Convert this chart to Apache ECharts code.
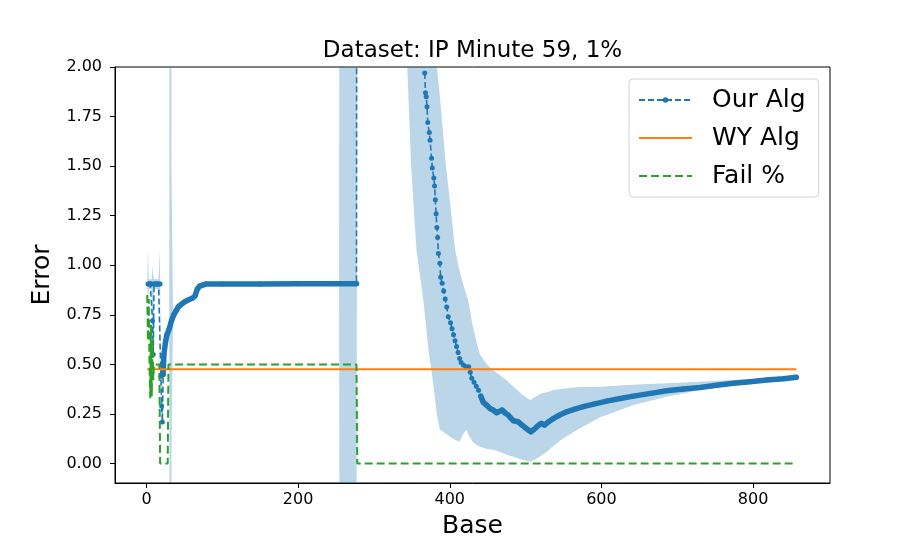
<!DOCTYPE html>
<html>
<head>
<meta charset="utf-8">
<script src="https://cdn.jsdelivr.net/npm/echarts@6/dist/echarts.min.js"></script>
<style>
  html, body { margin: 0; padding: 0; background: #fff; }
  #chart { width: 922px; height: 553px; }
</style>
</head>
<body>
<div id="chart"></div>
<script>
// Our Alg: mean error per base (null = off the chart, line broken)
var ourBase = [2,3,4,5,6,7,8,9,10,11,12,13,14,15,16,17,18,19,20,21,22,23,25,27,30,33,36,39,42,45,50,55,61,64,67,70,74,78,100,150,200,250,277,278,279,
  367,368,369,370,371,373,374,376,377,379,380,381,382,383,384,385,387,388,390,392,394,396,398,401,403,405,407,409,411,413,415,418,421,425,427,429,432,435,438,441,444,447,450,453,457,462,465,469,473,477,480,484,490,495,500,504,507,511,515,518,521,525,530,537,545,554,565,576,590,607,625,642,665,686,708,730,752,774,796,818,840,857];
var ourErr = [0.905,0.905,0.905,0.905,0.905,0.905,0.72,0.55,0.905,0.905,0.905,0.905,0.905,0.905,0.905,0.905,0.905,0.44,0.29,0.21,0.45,0.55,0.61,0.65,0.68,0.72,0.75,0.77,0.79,0.80,0.815,0.825,0.835,0.845,0.88,0.895,0.90,0.905,0.906,0.906,0.907,0.907,0.907,6.5,null,
  1.97,1.87,1.85,1.80,1.72,1.67,1.63,1.54,1.49,1.44,1.40,1.33,1.26,1.19,1.14,1.06,1.01,0.94,0.91,0.87,0.83,0.79,0.74,0.71,0.68,0.65,0.62,0.59,0.56,0.53,0.51,0.497,0.49,0.488,0.46,0.43,0.41,0.39,0.37,0.34,0.31,0.30,0.29,0.278,0.27,0.256,0.262,0.27,0.255,0.245,0.232,0.216,0.211,0.195,0.18,0.168,0.16,0.172,0.186,0.196,0.203,0.194,0.21,0.228,0.245,0.261,0.275,0.287,0.30,0.315,0.328,0.34,0.354,0.367,0.376,0.384,0.395,0.405,0.413,0.421,0.428,0.435];

// shaded spread around Our Alg
var bandBase = [1,2,3,7,8,9,10,16,17,18,19,20,21,22,25,29,30,31,32,33,35,40,60,78,254,255,277,278,340,
  341,349,356,365,372,378,383,387,395,400,407,413,418,422,424,430,437,440,448,457,466,475,484,495,506,512,520,528,537,546,564,572,599,607,642,686,730,774,818,857];
var bandLow = [0.9,0.8,0.88,0.88,0.6,0.5,0.88,0.88,0.85,0.85,0.35,0.2,0.15,0.4,0.58,0.66,0.67,-1,-1,0.03,0.72,0.77,0.83,0.90,0.90,-1,-1,3,3,
  2.3,1.5,1.08,0.83,0.57,0.41,0.25,0.17,0.15,0.135,0.12,0.11,0.15,0.17,0.15,0.11,0.09,0.085,0.075,0.07,0.06,0.045,0.034,0.02,0.009,0.02,0.038,0.06,0.09,0.118,0.16,0.178,0.235,0.245,0.295,0.337,0.371,0.396,0.418,0.432];
var bandHigh = [0.9,1.08,0.93,0.93,1.0,0.95,0.93,0.93,1.08,0.95,0.55,0.4,0.3,0.5,0.64,0.70,0.71,5,5,1.48,0.78,0.79,0.84,0.91,0.91,5,5,8,8,
  4,4,4,4,3,2.4,2.0,1.85,1.5,1.33,1.08,0.97,0.90,0.85,0.825,0.70,0.585,0.55,0.506,0.47,0.447,0.42,0.388,0.35,0.32,0.335,0.354,0.36,0.371,0.376,0.384,0.386,0.388,0.39,0.398,0.405,0.413,0.421,0.428,0.438];

var wyBase = [1, 857];
var wyErr = [0.476, 0.476];

var failBase = [1,2,3,4,5,6,7,8,9,10,17,18,28,29,277,278,857];
var failPct = [0.85,0.62,0.83,0.5,0.33,0.7,0.34,0.62,0.42,0.5,0.5,0.0,0.0,0.5,0.5,0.0,0.0];

var xTicks = [0, 200, 400, 600, 800];
var yTicks = [0, 0.25, 0.5, 0.75, 1.0, 1.25, 1.5, 1.75, 2.0];

function pairs(xs, ys) {
  return xs.map(function (x, i) { return [x, ys[i] == null ? '-' : ys[i]]; });
}
// dense stretches where the markers merge into a thick line
function dense(xs, ys) {
  return xs.map(function (x, i) {
    var inside = (x >= 22 && x <= 277) || (x >= 440);
    return [x, inside && ys[i] != null ? ys[i] : '-'];
  });
}

// one polygon: upper edge forward, lower edge back
function renderBand(params, api) {
  if (params.dataIndex !== 0) return null;
  var pts = [];
  for (var i = 0; i < bandBase.length; i++) pts.push(api.coord([bandBase[i], bandHigh[i]]));
  for (var j = bandBase.length - 1; j >= 0; j--) pts.push(api.coord([bandBase[j], bandLow[j]]));
  var cs = params.coordSys;
  return {
    type: 'polygon',
    shape: { points: pts },
    style: { fill: 'rgba(31,119,180,0.3)', stroke: null },
    clipPath: { type: 'rect', shape: { x: cs.x, y: cs.y, width: cs.width, height: cs.height } },
    silent: true
  };
}

var FONT = 'DejaVu Sans';
var chart = echarts.init(document.getElementById('chart'));

var option = {
  animation: false,
  backgroundColor: '#fff',
  title: {
    text: 'Dataset: IP Minute 59, 1%',
    left: 472.5,
    textAlign: 'center',
    top: 40,
    padding: 0,
    textStyle: { fontFamily: FONT, fontSize: 23, fontWeight: 'normal', color: '#000' }
  },
  grid: {
    left: 115, right: 92, top: 67, bottom: 70,
    show: true, borderColor: '#000', borderWidth: 1, backgroundColor: 'transparent'
  },
  legend: {
    data: [
      'Our Alg',
      { name: 'WY Alg', itemStyle: { opacity: 0 } },
      { name: 'Fail %', itemStyle: { opacity: 0 } }
    ],
    orient: 'vertical',
    left: 629, top: 79,
    padding: [6, 13, 6, 9],
    itemGap: 8,
    itemWidth: 53,
    itemHeight: 7,
    backgroundColor: '#fff',
    borderColor: '#d4d4d4',
    borderWidth: 1,
    borderRadius: 4,
    textStyle: { fontFamily: FONT, fontSize: 25, color: '#000', padding: [0, 0, 0, 15], lineHeight: 30 }
  },
  xAxis: {
    type: 'value',
    min: -41.5, max: 901.5,
    name: 'Base',
    nameLocation: 'middle',
    nameGap: 31,
    nameTextStyle: { fontFamily: FONT, fontSize: 25, color: '#000' },
    splitLine: { show: false },
    axisLine: { onZero: false, lineStyle: { color: '#000', width: 1 } },
    axisTick: { customValues: xTicks, length: 5, lineStyle: { color: '#000' } },
    axisLabel: { customValues: xTicks, fontFamily: FONT, fontSize: 16, color: '#000', margin: 9 }
  },
  yAxis: {
    type: 'value',
    min: -0.098, max: 2.0,
    name: 'Error',
    nameLocation: 'middle',
    nameGap: 50,
    nameTextStyle: { fontFamily: FONT, fontSize: 25, color: '#000' },
    splitLine: { show: false },
    axisLine: { show: true, onZero: false, lineStyle: { color: '#000', width: 1 } },
    axisTick: { show: true, customValues: yTicks, length: 5, lineStyle: { color: '#000' } },
    axisLabel: {
      customValues: yTicks, fontFamily: FONT, fontSize: 16, color: '#000', margin: 13,
      formatter: function (v) { return v.toFixed(2); }
    }
  },
  series: [
    {
      name: 'band', type: 'custom',
      data: bandBase.map(function (x, i) { return [x, bandLow[i], bandHigh[i]]; }),
      encode: { x: 0, y: [1, 2] },
      renderItem: renderBand,
      silent: true, z: 1
    },
    {
      name: 'Our Alg dense', type: 'line', symbol: 'none',
      data: dense(ourBase, ourErr),
      lineStyle: { color: '#1f77b4', width: 5.5, cap: 'round', join: 'round' }, silent: true, z: 2
    },
    {
      name: 'Our Alg', type: 'line',
      data: pairs(ourBase, ourErr),
      symbol: 'circle', symbolSize: 5, showAllSymbol: true,
      itemStyle: { color: '#1f77b4' },
      lineStyle: { color: '#1f77b4', width: 1.6, type: [6, 3] }, z: 2
    },
    {
      name: 'WY Alg', type: 'line', symbol: 'none',
      data: pairs(wyBase, wyErr),
      itemStyle: { color: '#ff7f0e' },
      lineStyle: { color: '#ff7f0e', width: 2 }, z: 3
    },
    {
      name: 'Fail %', type: 'line', symbol: 'none',
      data: pairs(failBase, failPct),
      itemStyle: { color: '#2ca02c' },
      lineStyle: { color: '#2ca02c', width: 2, type: [8, 4] }, z: 3
    }
  ]
};

chart.setOption(option);
</script>
</body>
</html>
